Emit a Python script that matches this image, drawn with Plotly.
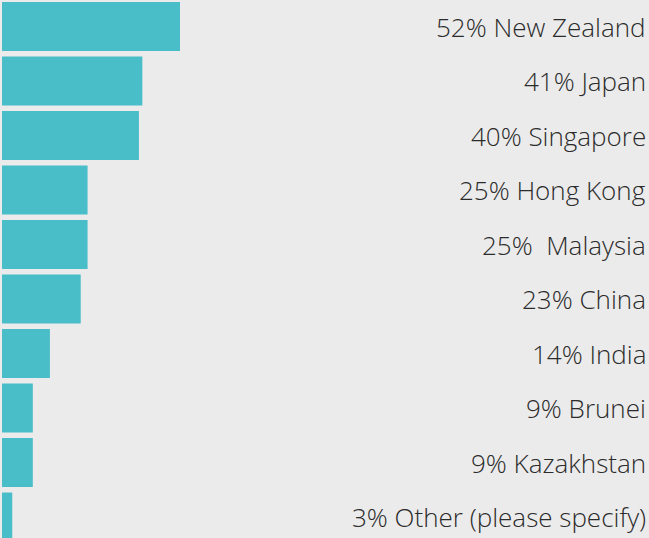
import plotly.graph_objects as go

countries = ["New Zealand", "Japan", "Singapore", "Hong Kong", " Malaysia",
             "China", "India", "Brunei", "Kazakhstan", "Other (please specify)"]
values = [52, 41, 40, 25, 25, 23, 14, 9, 9, 3]

W, H = 649, 538
px_per_unit = 178 / 52
x0 = -2 / px_per_unit
x1 = (W - 2) / px_per_unit

pitch = 54.5
y_start = -0.45 - 2 / pitch
y_end = y_start + H / pitch

idx = list(range(len(countries)))

fig = go.Figure(go.Bar(
    x=values,
    y=idx,
    orientation="h",
    marker=dict(color="#49bec9", line=dict(width=0)),
    width=0.9,
    hoverinfo="skip",
))

for i, (c, v) in zip(idx, zip(countries, values)):
    text = f"{v}% {c}".replace("  ", " \u00a0")
    fig.add_annotation(
        x=1, xref="paper", xanchor="right", xshift=-1,
        y=i, yref="y", yanchor="middle", yshift=0,
        text=text, showarrow=False,
        font=dict(family="Open Sans", size=26, color="#2b2b2b", weight=300),
    )

fig.update_layout(
    width=W, height=H,
    margin=dict(l=0, r=0, t=0, b=0),
    paper_bgcolor="#ebebeb",
    plot_bgcolor="#ebebeb",
    showlegend=False,
    xaxis=dict(range=[x0, x1], visible=False, fixedrange=True),
    yaxis=dict(range=[y_end, y_start], visible=False, fixedrange=True),
)

fig.write_html(
    "out.html",
    config={"displayModeBar": False},
    post_script="document.body.style.margin='0';document.body.style.overflow='hidden';document.body.style.background='#ebebeb';",
)
